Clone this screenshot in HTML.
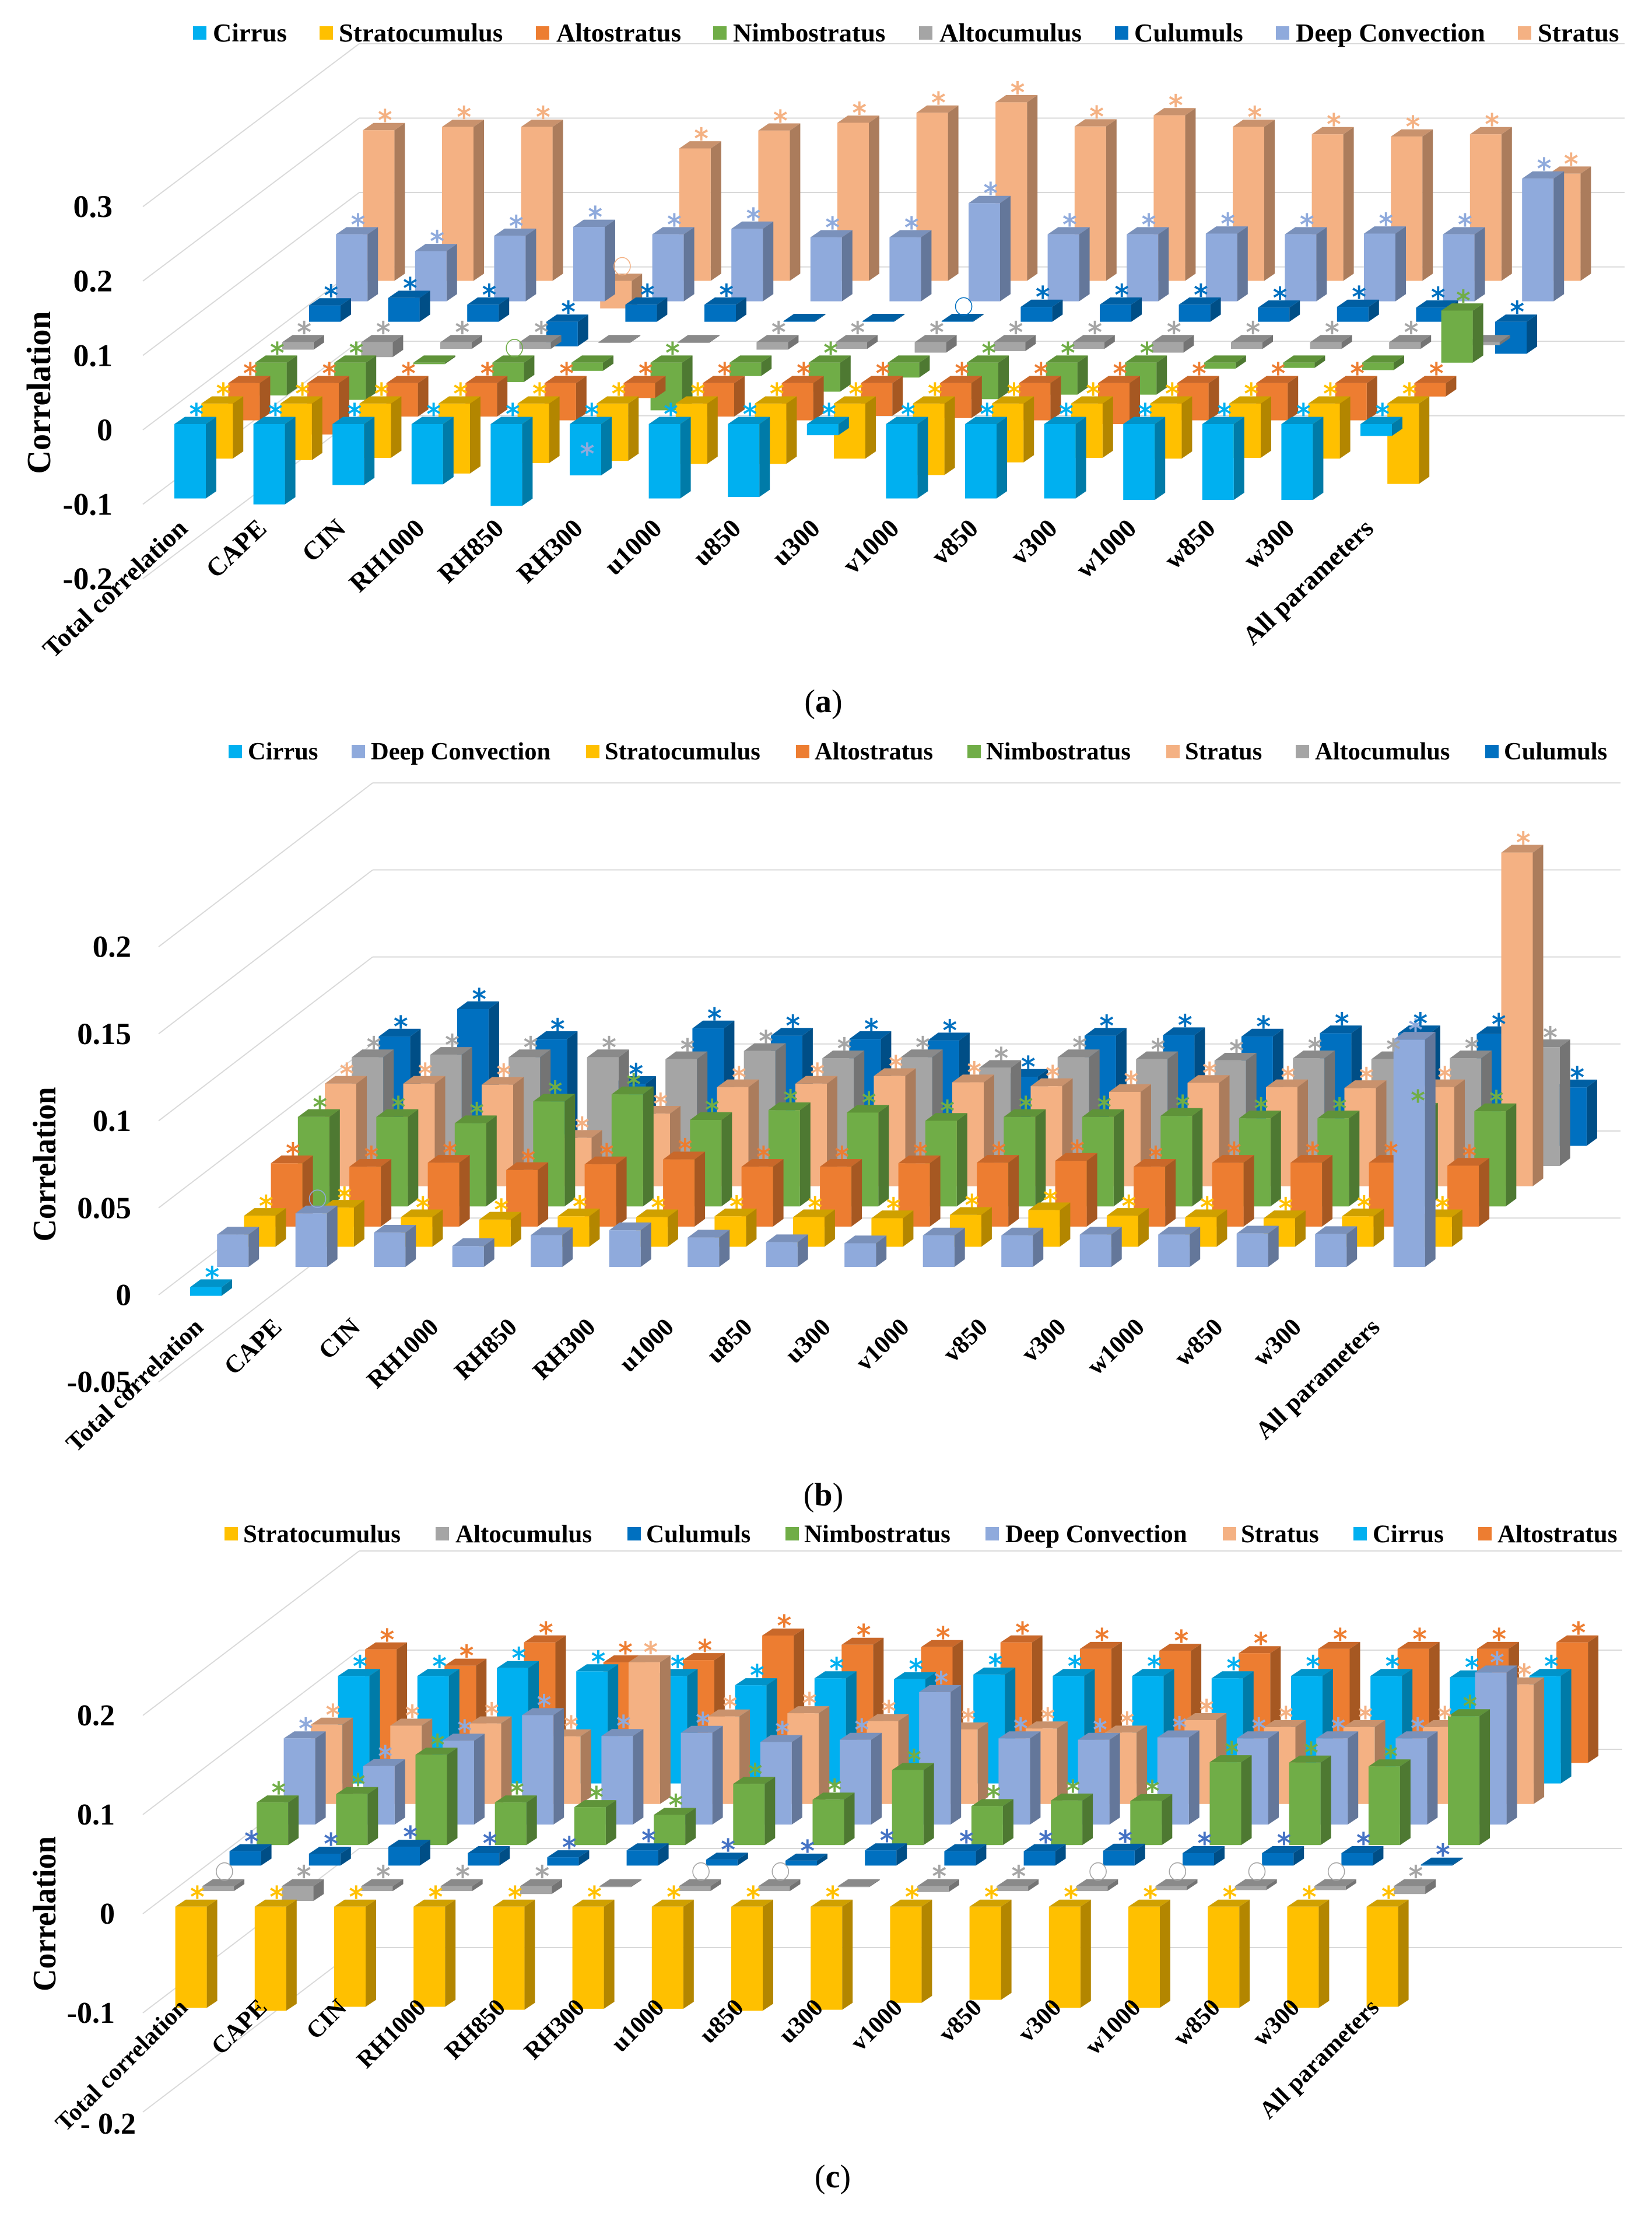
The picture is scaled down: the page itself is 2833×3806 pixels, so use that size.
<!DOCTYPE html>
<html lang="en">
<head>
<meta charset="utf-8">
<title>Correlation by cloud type</title>
<style>
html,body{margin:0;padding:0;background:#fff;width:2833px;height:3806px;overflow:hidden}
svg{display:block}
text{font-family:"Liberation Serif","Times New Roman",serif;font-weight:bold;fill:#000}
.star{font-family:"DejaVu Sans",sans-serif;font-weight:normal;text-anchor:middle;stroke-width:1.2px}
.lg{font-size:44.8px}
.lgb{font-size:42.5px}
.lgc{font-size:43px}
</style>
</head>
<body>
<svg id="figure" xmlns="http://www.w3.org/2000/svg" width="2833" height="3806" viewBox="0 0 2833 3806">
  <rect width="2833" height="3806" fill="#fff"/>
  <g id="chartA"></g>
  <g id="chartB"></g>
  <g id="chartC"></g>

  <g>
    <g><rect x="331" y="45" width="23" height="23" fill="#00b0f0"/><text class="lg" x="365" y="71">Cirrus</text></g>
    <g><rect x="548" y="45" width="23" height="23" fill="#ffc000"/><text class="lg" x="581" y="71">Stratocumulus</text></g>
    <g><rect x="919" y="45" width="23" height="23" fill="#ed7d31"/><text class="lg" x="954" y="71">Altostratus</text></g>
    <g><rect x="1223" y="45" width="23" height="23" fill="#70ad47"/><text class="lg" x="1257" y="71">Nimbostratus</text></g>
    <g><rect x="1576" y="45" width="23" height="23" fill="#a5a5a5"/><text class="lg" x="1611" y="71">Altocumulus</text></g>
    <g><rect x="1912" y="45" width="23" height="23" fill="#0070c0"/><text class="lg" x="1945" y="71">Culumuls</text></g>
    <g><rect x="2188" y="45" width="23" height="23" fill="#8faadc"/><text class="lg" x="2222" y="71">Deep Convection</text></g>
    <g><rect x="2603" y="45" width="23" height="23" fill="#f4b183"/><text class="lg" x="2637" y="71">Stratus</text></g>
  </g>
  <text transform="translate(86,673) rotate(-90)" text-anchor="middle" font-size="58" textLength="279" lengthAdjust="spacingAndGlyphs">Correlation</text>
  <text x="1412" y="1221" text-anchor="middle" font-size="56" style="font-weight:normal">(<tspan style="font-weight:bold">a</tspan>)</text>

  <g>
    <g><rect x="392" y="1277" width="23" height="23" fill="#00b0f0"/><text class="lgb" x="425" y="1302">Cirrus</text></g>
    <g><rect x="603" y="1277" width="23" height="23" fill="#8faadc"/><text class="lgb" x="636" y="1302">Deep Convection</text></g>
    <g><rect x="1005" y="1277" width="23" height="23" fill="#ffc000"/><text class="lgb" x="1037" y="1302">Stratocumulus</text></g>
    <g><rect x="1365" y="1277" width="23" height="23" fill="#ed7d31"/><text class="lgb" x="1397" y="1302">Altostratus</text></g>
    <g><rect x="1659" y="1277" width="23" height="23" fill="#70ad47"/><text class="lgb" x="1691" y="1302">Nimbostratus</text></g>
    <g><rect x="2000" y="1277" width="23" height="23" fill="#f4b183"/><text class="lgb" x="2032" y="1302">Stratus</text></g>
    <g><rect x="2222" y="1277" width="23" height="23" fill="#a5a5a5"/><text class="lgb" x="2255" y="1302">Altocumulus</text></g>
    <g><rect x="2547" y="1277" width="23" height="23" fill="#0070c0"/><text class="lgb" x="2579" y="1302">Culumuls</text></g>
  </g>
  <text transform="translate(95,1996) rotate(-90)" text-anchor="middle" font-size="56" textLength="265" lengthAdjust="spacingAndGlyphs">Correlation</text>
  <text x="1412" y="2581" text-anchor="middle" font-size="56" style="font-weight:normal">(<tspan style="font-weight:bold">b</tspan>)</text>

  <g>
    <g><rect x="385" y="2618" width="23" height="23" fill="#ffc000"/><text class="lgc" x="417" y="2644">Stratocumulus</text></g>
    <g><rect x="747" y="2618" width="23" height="23" fill="#a5a5a5"/><text class="lgc" x="781" y="2644">Altocumulus</text></g>
    <g><rect x="1076" y="2618" width="23" height="23" fill="#0070c0"/><text class="lgc" x="1108" y="2644">Culumuls</text></g>
    <g><rect x="1347" y="2618" width="23" height="23" fill="#70ad47"/><text class="lgc" x="1379" y="2644">Nimbostratus</text></g>
    <g><rect x="1690" y="2618" width="23" height="23" fill="#8faadc"/><text class="lgc" x="1724" y="2644">Deep Convection</text></g>
    <g><rect x="2097" y="2618" width="23" height="23" fill="#f4b183"/><text class="lgc" x="2128" y="2644">Stratus</text></g>
    <g><rect x="2321" y="2618" width="23" height="23" fill="#00b0f0"/><text class="lgc" x="2354" y="2644">Cirrus</text></g>
    <g><rect x="2535" y="2618" width="23" height="23" fill="#ed7d31"/><text class="lgc" x="2568" y="2644">Altostratus</text></g>
  </g>
  <text transform="translate(95,3281) rotate(-90)" text-anchor="middle" font-size="56" textLength="266" lengthAdjust="spacingAndGlyphs">Correlation</text>
  <text x="1428" y="3750" text-anchor="middle" font-size="56" style="font-weight:normal">(<tspan style="font-weight:bold">c</tspan>)</text>
</svg>

<script>
// ---------- shared categories ----------
const categories = ['Total correlation','CAPE','CIN','RH1000','RH850','RH300','u1000','u850','u300','v1000','v850','v300','w1000','w850','w300','All parameters'];

// ---------- chart (a) values, front row to back row ----------
const cirrusA  = [-0.1,-0.108,-0.082,-0.081,-0.11,-0.069,-0.1,-0.098,-0.015,-0.1,-0.1,-0.1,-0.102,-0.102,-0.102,-0.016];
const stratoA  = [-0.074,-0.076,-0.073,-0.094,-0.08,-0.077,-0.081,-0.081,-0.074,-0.096,-0.079,-0.073,-0.074,-0.073,-0.074,-0.108];
const altoA    = [-0.05,-0.069,-0.045,-0.045,-0.05,-0.02,-0.045,-0.05,-0.044,-0.047,-0.05,-0.055,-0.05,-0.05,-0.05,-0.018];
const nimboA   = [-0.044,-0.05,-0.002,-0.026,-0.011,-0.064,-0.018,-0.039,-0.02,-0.049,-0.043,-0.043,-0.008,-0.007,-0.01,0.07];
const altocuA  = [-0.01,-0.02,-0.009,-0.009,-0.001,-0.001,-0.01,-0.009,-0.014,-0.012,-0.009,-0.014,-0.009,-0.009,-0.009,-0.004];
const culumA   = [0.022,0.032,0.023,-0.033,0.023,0.023,0.001,0.001,0.001,0.02,0.023,0.023,0.019,0.02,0.019,-0.043];
const deepA    = [0.09,0.0675,0.088,0.1,0.09,0.0975,0.086,0.086,0.132,0.09,0.09,0.091,0.09,0.091,0.09,0.165];
const stratusA = [0.2025,0.207,0.207,-0.037,0.178,0.202,0.2125,0.226,0.24,0.2075,0.2225,0.207,0.197,0.194,0.197,0.144];
const ticksA   = [0.3,0.2,0.1,0,-0.1,-0.2];
const tickLabelsA = ['0.3','0.2','0.1','0','-0.1','-0.2'];

// significance marks: s = asterisk, o = circle, n = none
const allStars    = ['s','s','s','s','s','s','s','s','s','s','s','s','s','s','s','s'];
const nimboMarksA  = ['s','s','n','o','n','s','n','s','n','s','s','s','n','n','n','s'];
const altocuMarksA = ['s','s','s','s','n','n','s','s','s','s','s','s','s','s','s','n'];
const culumMarksA  = ['s','s','s','s','s','s','n','n','o','s','s','s','s','s','s','s'];
const stratusMarksA= ['s','s','s','o','s','s','s','s','s','s','s','s','s','s','s','s'];

// ---------- chart (b) values ----------
const cirrusB  = [-0.005,null,null,null,null,null,null,null,null,null,null,null,null,null,null,null];
const deepB    = [0.0186,0.0308,0.0197,0.012,0.0183,0.0211,0.0169,0.0142,0.0136,0.0181,0.0181,0.0186,0.0186,0.0192,0.0189,0.1306];
const stratoB  = [0.0178,0.0225,0.017,0.0156,0.0175,0.017,0.0175,0.017,0.0164,0.0183,0.021,0.0178,0.017,0.0164,0.0175,0.017];
const altoB    = [0.0364,0.0344,0.0367,0.0325,0.0358,0.0386,0.0344,0.0344,0.0364,0.0367,0.0378,0.0344,0.0367,0.0367,0.0367,0.035];
const nimboB   = [0.0514,0.0514,0.0478,0.0603,0.0644,0.0497,0.0553,0.0539,0.0492,0.0514,0.0514,0.052,0.0506,0.0506,0.055,0.0547];
const stratusB = [0.0589,0.0589,0.0583,0.0278,0.0417,0.0569,0.0589,0.0633,0.0597,0.0575,0.0542,0.0594,0.0569,0.0564,0.0569,0.1917];
const altocuB  = [0.0625,0.0639,0.0625,0.0625,0.0614,0.0661,0.0619,0.0625,0.0564,0.0625,0.0614,0.0606,0.0619,0.0614,0.0619,0.0683];
const culumB   = [0.0628,0.0786,0.0614,0.0356,0.0675,0.0633,0.0614,0.0606,0.0397,0.0633,0.0636,0.0628,0.0647,0.0647,0.0642,0.0336];
const ticksB   = [0.2,0.15,0.1,0.05,0,-0.05];
const tickLabelsB = ['0.2','0.15','0.1','0.05','0','-0.05'];
const cirrusMarksB = ['s','n','n','n','n','n','n','n','n','n','n','n','n','n','n','n'];
const deepMarksB   = ['n','o','n','n','n','n','n','n','n','n','n','n','n','n','n','s'];

// ---------- chart (c) values ----------
const stratoC  = [-0.102,-0.105,-0.101,-0.101,-0.104,-0.103,-0.103,-0.105,-0.104,-0.097,-0.094,-0.102,-0.102,-0.102,-0.102,-0.101];
const altocuC  = [-0.005,-0.015,-0.005,-0.005,-0.008,-0.001,-0.005,-0.005,-0.001,-0.006,-0.005,-0.005,-0.004,-0.004,-0.004,-0.008];
const culumC   = [0.0145,0.012,0.019,0.0126,0.0084,0.0154,0.006,0.005,0.0154,0.0145,0.0145,0.015,0.0126,0.0126,0.0126,0.001];
const nimboC   = [0.043,0.0514,0.0911,0.043,0.0383,0.0304,0.0617,0.0458,0.0757,0.0393,0.0449,0.0444,0.0836,0.0832,0.0794,0.13];
const deepC    = [0.0869,0.0589,0.0846,0.1103,0.0893,0.0925,0.0832,0.0855,0.1336,0.0869,0.0855,0.0879,0.0869,0.0869,0.0869,0.1533];
const stratusC = [0.08,0.079,0.0813,0.0682,0.143,0.0883,0.0916,0.0836,0.0752,0.0762,0.072,0.0846,0.0776,0.0776,0.0776,0.1206];
const cirrusC  = [0.1084,0.1084,0.1164,0.1131,0.1084,0.0991,0.1061,0.1051,0.1098,0.1084,0.1084,0.1061,0.1084,0.1084,0.107,0.1084];
const altoC    = [0.1145,0.0981,0.1215,0.1014,0.1037,0.1285,0.1192,0.1168,0.1215,0.115,0.1131,0.1107,0.115,0.115,0.115,0.1215];
const ticksC   = [0.2,0.1,0,-0.1,-0.2];
const tickLabelsC = ['0.2','0.1','0','-0.1','- 0.2'];
const altocuMarksC = ['o','s','s','s','s','n','o','o','n','s','s','o','o','o','o','s'];

// ---------- colours: front, side, top ----------
const palette = {
  cirrus:  ['#00b0f0','#007ba8','#0093c9'],
  strato:  ['#ffc000','#b38600','#cfa000'],
  alto:    ['#ed7d31','#a65822','#c9682a'],
  nimbo:   ['#70ad47','#4e7932','#5f9339'],
  altocu:  ['#a5a5a5','#747474','#8a8a8a'],
  culum:   ['#0070c0','#004e86','#005fa3'],
  deep:    ['#8faadc','#64779a','#7a91bb'],
  stratus: ['#f4b183','#ab7c5c','#c9926d']
};

const NS = 'http://www.w3.org/2000/svg';
function make(tag, attrs){
  const el = document.createElementNS(NS, tag);
  for (const k in attrs) el.setAttribute(k, attrs[k]);
  return el;
}
function pts(list){ return list.map(p => p[0].toFixed(1)+','+p[1].toFixed(1)).join(' '); }

function drawChart(root, cfg, series){
  // axis functions
  const barX   = (col,row) => cfg.x0 + col*cfg.stepX + row*cfg.rowDx;
  const zeroY  = row => cfg.y0 - row*cfg.rowDy;
  const barY   = (v,row) => zeroY(row) - v*cfg.scale;
  const backY  = v => cfg.backZero - v*cfg.scale;
  const frontY = v => cfg.frontZero - v*cfg.scale;

  // gridlines + side-wall lines
  cfg.ticks.forEach((t,i) => {
    const grid = make('line',{x1:cfg.wallX,x2:cfg.rightX,y1:backY(t),y2:backY(t),stroke:'#d9d9d9','stroke-width':2});
    
    
    root.appendChild(grid);
    const side = make('line',{x1:cfg.sideX,x2:cfg.wallX,y1:frontY(t),y2:backY(t),stroke:'#d9d9d9','stroke-width':2});
    
    
    root.appendChild(side);
  });

  // bars, back row first
  for (let r = series.length-1; r >= 0; r--){
    const s = series[r];
    s.values.forEach((v,c) => {
      if (v === null) return;
      const x = barX(c,r), z = zeroY(r), y = barY(v,r);
      const top = Math.min(y,z), bot = Math.max(y,z);
      const w = cfg.barW, dx = cfg.depthX, dy = cfg.depthY;
      const g = make('g',{});
      
      
      const side = make('polygon',{points:pts([[x+w,top],[x+w+dx,top-dy],[x+w+dx,bot-dy],[x+w,bot]]),fill:s.color[1]});
      
      
      const cap = make('polygon',{points:pts([[x,top],[x+dx,top-dy],[x+w+dx,top-dy],[x+w,top]]),fill:s.color[2]});
      
      
      const front = make('rect',{x:x,y:top,width:w,height:Math.max(bot-top,1),fill:s.color[0]});
      
      
      g.appendChild(side); g.appendChild(cap); g.appendChild(front);
      root.appendChild(g);
    });
  }

  // significance marks on top of all bars
  series.forEach((s,r) => {
    s.values.forEach((v,c) => {
      if (v === null) return;
      const m = s.marks[c];
      if (m === 'n') return;
      const cx = barX(c,r) + cfg.barW*0.7;
      const cy = Math.min(barY(v,r), zeroY(r)) - 25;
      if (m === 's'){
        const col = s.starColor || s.color[0];
        const t = make('text',{class:'star',x:cx,y:cy+25,'font-size':48,style:'fill:'+col+';stroke:'+col});
        
        
        t.textContent = '*';
        root.appendChild(t);
      } else {
        const o = make('ellipse',{cx:cx,cy:cy,rx:14,ry:15,fill:'none',stroke:s.color[0],'stroke-width':1.6});
        
        
        root.appendChild(o);
      }
    });
  });

  // y tick labels
  cfg.ticks.forEach((t,i) => {
    const shift = (cfg.lastTickShift && i === cfg.ticks.length-1) ? cfg.lastTickShift : [0,0];
    const lab = make('text',{x:cfg.tickX+shift[0],y:frontY(t)+cfg.tickSize*0.33+shift[1],'text-anchor':'end','font-size':cfg.tickSize});
    
    
    lab.textContent = cfg.tickLabels[i];
    root.appendChild(lab);
  });

  // category labels
  categories.forEach((name,c) => {
    const ax = cfg.catX + c*cfg.stepX;
    const lab = make('text',{transform:'translate('+ax.toFixed(1)+','+cfg.catY+') rotate('+cfg.catAngle+')','text-anchor':'end','font-size':cfg.catSize});
    
    
    lab.textContent = name;
    root.appendChild(lab);
  });

  return {barX, barY};
}

// ---------- chart (a) ----------
const axA = drawChart(document.getElementById('chartA'), {
  x0:299, stepX:135.6, rowDx:46.2, y0:727, rowDy:35.07, scale:1275.5, barW:54, depthX:18, depthY:12.4,
  backZero:457.6, frontZero:737, wallX:616, sideX:245, rightX:2786,
  ticks:ticksA, tickLabels:tickLabelsA, tickX:193, tickSize:54, catX:324, catY:909, catSize:45, catAngle:-43.5
}, [
  {values:cirrusA,  color:palette.cirrus,  marks:allStars},
  {values:stratoA,  color:palette.strato,  marks:allStars},
  {values:altoA,    color:palette.alto,    marks:allStars},
  {values:nimboA,   color:palette.nimbo,   marks:nimboMarksA},
  {values:altocuA,  color:palette.altocu,  marks:altocuMarksA},
  {values:culumA,   color:palette.culum,   marks:culumMarksA},
  {values:deepA,    color:palette.deep,    marks:allStars},
  {values:stratusA, color:palette.stratus, marks:stratusMarksA}
]);
// stray pale asterisk drawn inside the RH300 cirrus bar
const stray = make('text',{class:'star',x:axA.barX(5,0)+30,y:axA.barY(cirrusA[5]*0.5,0)+24,'font-size':48,style:'fill:#8faadc;stroke:#8faadc'});


stray.textContent = '*';
document.getElementById('chartA').appendChild(stray);

// ---------- chart (b) ----------
drawChart(document.getElementById('chartB'), {
  x0:326, stepX:134.5, rowDx:46.2, y0:2206.7, rowDy:34.6, scale:2984, barW:54, depthX:18, depthY:13.3,
  backZero:1939, frontZero:2220, wallX:639, sideX:272, rightX:2779,
  ticks:ticksB, tickLabels:tickLabelsB, tickX:225, tickSize:53, catX:351, catY:2278, catSize:43, catAngle:-44
}, [
  {values:cirrusB,  color:palette.cirrus,  marks:cirrusMarksB},
  {values:deepB,    color:palette.deep,    marks:deepMarksB},
  {values:stratoB,  color:palette.strato,  marks:allStars},
  {values:altoB,    color:palette.alto,    marks:allStars},
  {values:nimboB,   color:palette.nimbo,   marks:allStars},
  {values:stratusB, color:palette.stratus, marks:allStars},
  {values:altocuB,  color:palette.altocu,  marks:allStars},
  {values:culumB,   color:palette.culum,   marks:allStars}
]);

// ---------- chart (c) ----------
drawChart(document.getElementById('chartC'), {
  x0:300.6, stepX:136.2, rowDx:46.5, y0:3268.8, rowDy:35.2, scale:1700, barW:54, depthX:18, depthY:12,
  backZero:2999, frontZero:3281, wallX:616, sideX:245, rightX:2782,
  ticks:ticksC, tickLabels:tickLabelsC, tickX:197, tickSize:52, lastTickShift:[36,20], catX:324, catY:3444, catSize:42, catAngle:-45
}, [
  {values:stratoC,  color:palette.strato,  marks:allStars},
  {values:altocuC,  color:palette.altocu,  marks:altocuMarksC},
  {values:culumC,   color:palette.culum,   marks:allStars, starColor:'#4472c4'},
  {values:nimboC,   color:palette.nimbo,   marks:allStars},
  {values:deepC,    color:palette.deep,    marks:allStars},
  {values:stratusC, color:palette.stratus, marks:allStars},
  {values:cirrusC,  color:palette.cirrus,  marks:allStars},
  {values:altoC,    color:palette.alto,    marks:allStars}
]);
</script>
</body>
</html>
